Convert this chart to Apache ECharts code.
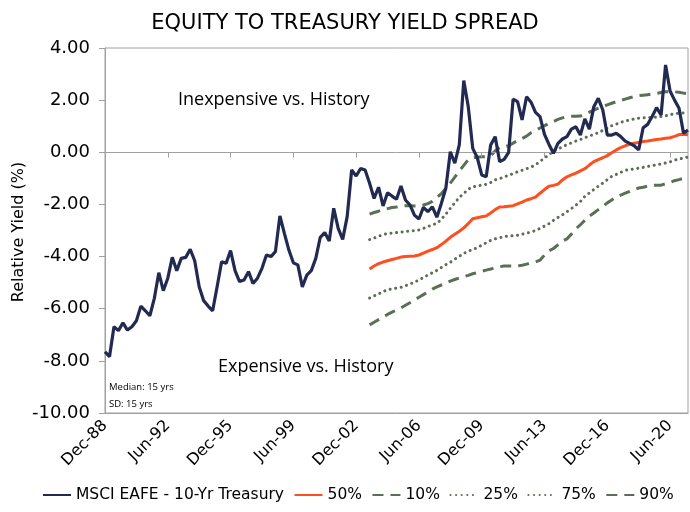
<!DOCTYPE html>
<html>
<head>
<meta charset="utf-8">
<script src="https://cdn.jsdelivr.net/npm/echarts@6/dist/echarts.min.js"></script>
<style>html,body{margin:0;padding:0;background:#fff}#c{width:690px;height:512px}</style>
</head>
<body>
<div id="c"></div>
<script>
// Quarterly categories, Dec-88 .. Jun-21
const quarterMonths = ['Mar', 'Jun', 'Sep', 'Dec'];
const categories = [];
for (let i = 0; i < 131; i++) {
  const q = 3 + i;
  const yr = (1988 + Math.floor(q / 4)) % 100;
  categories.push(quarterMonths[q % 4] + '-' + String(yr).padStart(2, '0'));
}

const yTicks = { min: -10, max: 4, interval: 2 };
const xLabelEvery = 14;

const spread = [
  -7.65, -7.84, -6.69, -6.84, -6.54, -6.82, -6.69, -6.46, -5.90, -6.08,
  -6.27, -5.60, -4.62, -5.31, -4.83, -4.03, -4.54, -4.07, -4.03, -3.72,
  -4.16, -5.16, -5.69, -5.90, -6.08, -5.16, -4.20, -4.26, -3.77, -4.54,
  -4.96, -4.90, -4.58, -5.03, -4.83, -4.45, -3.94, -4.00, -3.81, -2.44,
  -3.11, -3.75, -4.24, -4.32, -5.16, -4.71, -4.54, -4.07, -3.26, -3.08,
  -3.40, -2.15, -2.92, -3.34, -2.47, -0.68, -0.91, -0.62, -0.68, -1.19,
  -1.77, -1.34, -2.06, -1.55, -1.68, -1.80, -1.29, -1.83, -2.02, -2.41,
  -2.56, -2.11, -2.28, -2.09, -2.49, -1.96, -1.38, 0.02, -0.42, 0.28,
  2.75, 1.75, 0.15, -0.20, -0.87, -0.94, 0.28, 0.60, -0.36, -0.27,
  0.00, 2.04, 1.94, 1.24, 2.13, 1.92, 1.53, 1.37, 0.69, 0.30,
  -0.04, 0.34, 0.51, 0.60, 0.89, 0.98, 0.66, 1.28, 0.89, 1.75,
  2.07, 1.62, 0.66, 0.66, 0.73, 0.60, 0.43, 0.34, 0.25, 0.09,
  0.94, 1.07, 1.37, 1.71, 1.43, 3.35, 2.35, 2.00, 1.69, 0.73,
  0.85
];

// Percentile bands start at Sep-03 (index 59)
const bandStart = 59;

const p50 = [
  -4.48, -4.36, -4.27, -4.21, -4.16, -4.11, -4.07, -4.02, -4.00, -3.99,
  -3.98, -3.94, -3.87, -3.79, -3.73, -3.66, -3.54, -3.41, -3.26, -3.14,
  -3.03, -2.90, -2.73, -2.55, -2.51, -2.47, -2.44, -2.33, -2.20, -2.10,
  -2.09, -2.07, -2.05, -1.98, -1.91, -1.83, -1.78, -1.72, -1.57, -1.43,
  -1.30, -1.27, -1.22, -1.06, -0.94, -0.87, -0.80, -0.71, -0.63, -0.49,
  -0.36, -0.28, -0.21, -0.13, -0.02, 0.09, 0.18, 0.25, 0.31, 0.35,
  0.38, 0.41, 0.43, 0.46, 0.49, 0.51, 0.54, 0.56, 0.61, 0.68,
  0.69, 0.67
];

const p10 = [
  -6.62, -6.52, -6.42, -6.32, -6.22, -6.13, -6.05, -5.97, -5.87, -5.77,
  -5.67, -5.56, -5.46, -5.36, -5.25, -5.16, -5.09, -5.02, -4.94, -4.88,
  -4.82, -4.77, -4.72, -4.66, -4.61, -4.56, -4.52, -4.48, -4.43, -4.39,
  -4.36, -4.36, -4.36, -4.36, -4.33, -4.29, -4.25, -4.21, -4.14, -3.94,
  -3.78, -3.69, -3.55, -3.41, -3.32, -3.14, -2.94, -2.78, -2.61, -2.45,
  -2.33, -2.20, -2.08, -1.94, -1.83, -1.72, -1.64, -1.57, -1.50, -1.43,
  -1.37, -1.34, -1.30, -1.26, -1.26, -1.26, -1.21, -1.16, -1.09, -1.05,
  -1.00, -0.94
];

const p25 = [
  -5.59, -5.51, -5.43, -5.35, -5.27, -5.24, -5.21, -5.18, -5.12, -5.05,
  -4.98, -4.90, -4.80, -4.71, -4.62, -4.53, -4.42, -4.31, -4.22, -4.10,
  -3.99, -3.88, -3.79, -3.73, -3.66, -3.56, -3.47, -3.38, -3.32, -3.28,
  -3.23, -3.22, -3.20, -3.18, -3.14, -3.10, -3.06, -3.00, -2.92, -2.83,
  -2.74, -2.61, -2.50, -2.40, -2.28, -2.16, -2.03, -1.89, -1.69, -1.56,
  -1.43, -1.30, -1.18, -1.05, -0.92, -0.85, -0.77, -0.69, -0.67, -0.64,
  -0.61, -0.58, -0.54, -0.51, -0.48, -0.45, -0.41, -0.37, -0.30, -0.26,
  -0.22, -0.18
];

const p75 = [
  -3.35, -3.29, -3.22, -3.16, -3.11, -3.10, -3.08, -3.06, -3.04, -3.02,
  -3.00, -2.98, -2.92, -2.85, -2.78, -2.73, -2.57, -2.37, -2.15, -1.94,
  -1.73, -1.58, -1.42, -1.32, -1.30, -1.25, -1.23, -1.16, -1.06, -1.01,
  -0.95, -0.88, -0.82, -0.75, -0.69, -0.63, -0.57, -0.48, -0.35, -0.22,
  -0.09, 0.04, 0.13, 0.21, 0.29, 0.36, 0.43, 0.49, 0.56, 0.62,
  0.69, 0.75, 0.84, 0.92, 1.02, 1.08, 1.15, 1.20, 1.24, 1.28,
  1.31, 1.32, 1.33, 1.34, 1.35, 1.37, 1.40, 1.44, 1.48, 1.50,
  1.51, 1.52
];

const p90 = [
  -2.37, -2.31, -2.26, -2.20, -2.16, -2.12, -2.10, -2.07, -2.05, -2.05,
  -2.06, -2.06, -2.02, -1.97, -1.88, -1.73, -1.59, -1.38, -1.18, -0.95,
  -0.72, -0.50, -0.28, -0.21, -0.19, -0.17, -0.17, -0.13, 0.05, 0.19,
  0.21, 0.25, 0.35, 0.45, 0.53, 0.62, 0.75, 0.84, 0.93, 1.02,
  1.10, 1.18, 1.26, 1.32, 1.37, 1.38, 1.38, 1.39, 1.46, 1.54,
  1.62, 1.69, 1.75, 1.82, 1.88, 1.94, 1.99, 2.04, 2.09, 2.14,
  2.17, 2.19, 2.21, 2.23, 2.26, 2.29, 2.32, 2.32, 2.32, 2.30,
  2.27, 2.24
];

function padBand(arr) {
  return new Array(bandStart).fill(null).concat(arr);
}

const NAVY = '#222a52';
const ORANGE = '#ff4f1f';
const GREEN = '#5b6e56';
const GRID_GRAY = '#a0a0a0';
const FONT = 'DejaVu Sans';

// Zero line with small downward ticks at every labelled category (drawn in data coordinates)
const zeroMarks = [[{ xAxis: 0, yAxis: 0 }, { xAxis: categories.length - 1, yAxis: 0 }]];
for (let i = xLabelEvery; i < categories.length; i += xLabelEvery) {
  zeroMarks.push([{ coord: [i, 0] }, { coord: [i, -0.2] }]);
}

const chart = echarts.init(document.getElementById('c'), null, { renderer: 'canvas' });

const option = {
  animation: false,
  backgroundColor: '#fff',
  title: {
    text: 'EQUITY TO TREASURY YIELD SPREAD',
    left: 'center',
    top: 8,
    textStyle: { fontFamily: FONT, fontSize: 21, fontWeight: 'normal', color: '#000' }
  },
  grid: { left: 105, right: 2, top: 48, bottom: 99, show: true, borderColor: GRID_GRAY, borderWidth: 1 },
  legend: {
    bottom: 9,
    left: 42,
    padding: 0,
    itemWidth: 28,
    itemHeight: 12,
    itemGap: 9.5,
    itemStyle: { opacity: 0 },
    textStyle: { fontFamily: FONT, fontSize: 15.5, color: '#000' },
    data: ['MSCI EAFE - 10-Yr Treasury', '50%', '10%', '25%', '75%', '90%']
  },
  xAxis: {
    type: 'category',
    data: categories,
    boundaryGap: false,
    position: 'bottom',
    axisLine: { onZero: false, lineStyle: { color: GRID_GRAY } },
    axisTick: { show: false },
    axisLabel: { interval: xLabelEvery - 1, rotate: 45, fontFamily: FONT, fontSize: 16, color: '#000', margin: 10 },
    splitLine: { show: false }
  },
  yAxis: {
    type: 'value',
    min: yTicks.min,
    max: yTicks.max,
    interval: yTicks.interval,
    axisLine: { show: true, lineStyle: { color: GRID_GRAY } },
    axisTick: { show: true, length: 6, lineStyle: { color: GRID_GRAY } },
    axisLabel: { fontFamily: FONT, fontSize: 18, color: '#000', margin: 15, formatter: v => v.toFixed(2) },
    splitLine: { show: false }
  },
  series: [
    {
      name: 'MSCI EAFE - 10-Yr Treasury', type: 'line', data: spread, symbol: 'none', z: 10,
      lineStyle: { color: NAVY, width: 3.2 }, itemStyle: { color: NAVY }
    },
    {
      name: '50%', type: 'line', data: padBand(p50), symbol: 'none', z: 5,
      lineStyle: { color: ORANGE, width: 3 }, itemStyle: { color: ORANGE }
    },
    {
      name: '10%', type: 'line', data: padBand(p10), symbol: 'none', z: 4,
      lineStyle: { color: GREEN, width: 3, type: [11, 7] }, itemStyle: { color: GREEN },
      markLine: {
        silent: true,
        symbol: 'none',
        label: { show: false },
        lineStyle: { color: GRID_GRAY, width: 1, type: 'solid' },
        emphasis: { disabled: true },
        data: zeroMarks
      }
    },
    {
      name: '25%', type: 'line', data: padBand(p25), symbol: 'none', z: 4,
      lineStyle: { color: GREEN, width: 3, type: [0.1, 5.5], cap: 'round' }, itemStyle: { color: GREEN }
    },
    {
      name: '75%', type: 'line', data: padBand(p75), symbol: 'none', z: 4,
      lineStyle: { color: GREEN, width: 3, type: [0.1, 5.5], cap: 'round' }, itemStyle: { color: GREEN }
    },
    {
      name: '90%', type: 'line', data: padBand(p90), symbol: 'none', z: 4,
      lineStyle: { color: GREEN, width: 3, type: [11, 7] }, itemStyle: { color: GREEN }
    }
  ],
  graphic: [
    { type: 'text', x: 19, y: 232, rotation: Math.PI / 2,
      style: { text: 'Relative Yield (%)', font: '16px "DejaVu Sans"', fill: '#000', align: 'center', verticalAlign: 'middle' } },
    { type: 'text', left: 178, top: 91, style: { text: 'Inexpensive vs. History', font: '18px "Open Sans"', fill: '#000' } },
    { type: 'text', left: 218, top: 358, style: { text: 'Expensive vs. History', font: '18px "Open Sans"', fill: '#000' } },
    { type: 'text', left: 109, top: 382, style: { text: 'Median: 15 yrs', font: '9.5px "Open Sans"', fill: '#000' } },
    { type: 'text', left: 109, top: 399, style: { text: 'SD: 15 yrs', font: '9.5px "Open Sans"', fill: '#000' } }
  ]
};

chart.setOption(option);
</script>
</body>
</html>
